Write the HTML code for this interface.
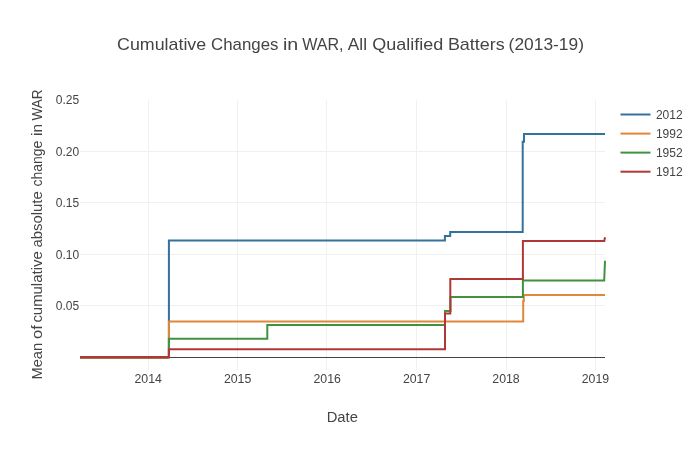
<!DOCTYPE html>
<html>
<head>
<meta charset="utf-8">
<style>
html,body{margin:0;padding:0;background:#fff;width:700px;height:450px;overflow:hidden;}
svg{display:block;will-change:transform;}
text{font-family:"Liberation Sans",sans-serif;fill:#444;}
</style>
</head>
<body>
<svg width="700" height="450" viewBox="0 0 700 450">
<rect x="0" y="0" width="700" height="450" fill="#fff"/>
<!-- gridlines -->
<g stroke="#f0f0f0" stroke-width="1" fill="none" shape-rendering="crispEdges">
<path d="M148.5,100V370M237.5,100V370M326.5,100V370M416.5,100V370M506.5,100V370M595.5,100V370"/>
<path d="M80,151.5H605M80,202.5H605M80,254.5H605M80,305.5H605"/>
</g>
<!-- zero line -->
<path d="M80,357.5H605" stroke="#444" stroke-width="1" fill="none"/>
<!-- traces -->
<g fill="none" stroke-width="2" stroke-linejoin="miter">
<path stroke="#34719c" d="M80,357.3H168.9V240.4H444.9V236.1H450.2V232H522.7V141.8H524V134H605"/>
<path stroke="#e08738" d="M80,357.3H168.9V321.6H523.2V301H523.8V295H605"/>
<path stroke="#409240" d="M80,357.3H168.9V338.7H267.3V325.1H445V311H450.5V297.1H522.9V280.5H604.2L605,260.8"/>
<path stroke="#b13737" d="M80,357.3H168.9V349.2H445V313.6H450.3V278.9H522.9V241H604.3L605,237.2"/>
</g>
<path d="M80,357.3H168" stroke="#a83d2e" stroke-width="2.2" fill="none"/>
<!-- y tick labels -->
<g font-size="12" text-anchor="end">
<text x="79.1" y="103.7">0.25</text>
<text x="79.1" y="155.6">0.20</text>
<text x="79.1" y="207.3">0.15</text>
<text x="79.1" y="259">0.10</text>
<text x="79.1" y="310.3">0.05</text>
</g>
<!-- x tick labels -->
<g font-size="12" text-anchor="middle">
<text x="148.2" y="382.7" textLength="27.4" lengthAdjust="spacingAndGlyphs">2014</text>
<text x="237.6" y="382.7" textLength="27.4" lengthAdjust="spacingAndGlyphs">2015</text>
<text x="327.2" y="382.7" textLength="27.4" lengthAdjust="spacingAndGlyphs">2016</text>
<text x="416.6" y="382.7" textLength="27.4" lengthAdjust="spacingAndGlyphs">2017</text>
<text x="506" y="382.7" textLength="27.4" lengthAdjust="spacingAndGlyphs">2018</text>
<text x="595.4" y="382.7" textLength="27.4" lengthAdjust="spacingAndGlyphs">2019</text>
</g>
<!-- title -->
<g font-size="17">
<text x="117.1" y="50.3" textLength="89.1" lengthAdjust="spacingAndGlyphs">Cumulative</text>
<text x="211.1" y="50.3" textLength="67.4" lengthAdjust="spacingAndGlyphs">Changes</text>
<text x="282.9" y="50.3" textLength="15.3" lengthAdjust="spacingAndGlyphs">in</text>
<text x="302.2" y="50.3" textLength="41.4" lengthAdjust="spacingAndGlyphs">WAR,</text>
<text x="347.8" y="50.3" textLength="19.2" lengthAdjust="spacingAndGlyphs">All</text>
<text x="372.2" y="50.3" textLength="71.0" lengthAdjust="spacingAndGlyphs">Qualified</text>
<text x="447.9" y="50.3" textLength="56.8" lengthAdjust="spacingAndGlyphs">Batters</text>
<text x="508.6" y="50.3" textLength="75.4" lengthAdjust="spacingAndGlyphs">(2013-19)</text>
</g>
<!-- axis titles -->
<text x="326.7" y="421.6" font-size="14" textLength="31.2" lengthAdjust="spacingAndGlyphs">Date</text>
<g font-size="14">
<text transform="translate(42.1,379.6) rotate(-90)" textLength="36.8" lengthAdjust="spacingAndGlyphs">Mean</text>
<text transform="translate(42.1,339.0) rotate(-90)" textLength="13.7" lengthAdjust="spacingAndGlyphs">of</text>
<text transform="translate(42.1,322.6) rotate(-90)" textLength="71.3" lengthAdjust="spacingAndGlyphs">cumulative</text>
<text transform="translate(42.1,247.6) rotate(-90)" textLength="56.3" lengthAdjust="spacingAndGlyphs">absolute</text>
<text transform="translate(42.1,186.6) rotate(-90)" textLength="45.9" lengthAdjust="spacingAndGlyphs">change</text>
<text transform="translate(42.1,136.0) rotate(-90)" textLength="12.0" lengthAdjust="spacingAndGlyphs">in</text>
<text transform="translate(42.1,120.6) rotate(-90)" textLength="31.2" lengthAdjust="spacingAndGlyphs">WAR</text>
</g>
<!-- legend -->
<g stroke-width="2" fill="none">
<path stroke="#34719c" d="M620.5,114.5H650.5"/>
<path stroke="#e08738" d="M620.5,133.6H650.5"/>
<path stroke="#409240" d="M620.5,152.6H650.5"/>
<path stroke="#b13737" d="M620.5,171.7H650.5"/>
</g>
<g font-size="12">
<text x="655.9" y="118.9">2012</text>
<text x="655.9" y="138">1992</text>
<text x="655.9" y="157.1">1952</text>
<text x="655.9" y="176.2">1912</text>
</g>
</svg>
</body>
</html>
